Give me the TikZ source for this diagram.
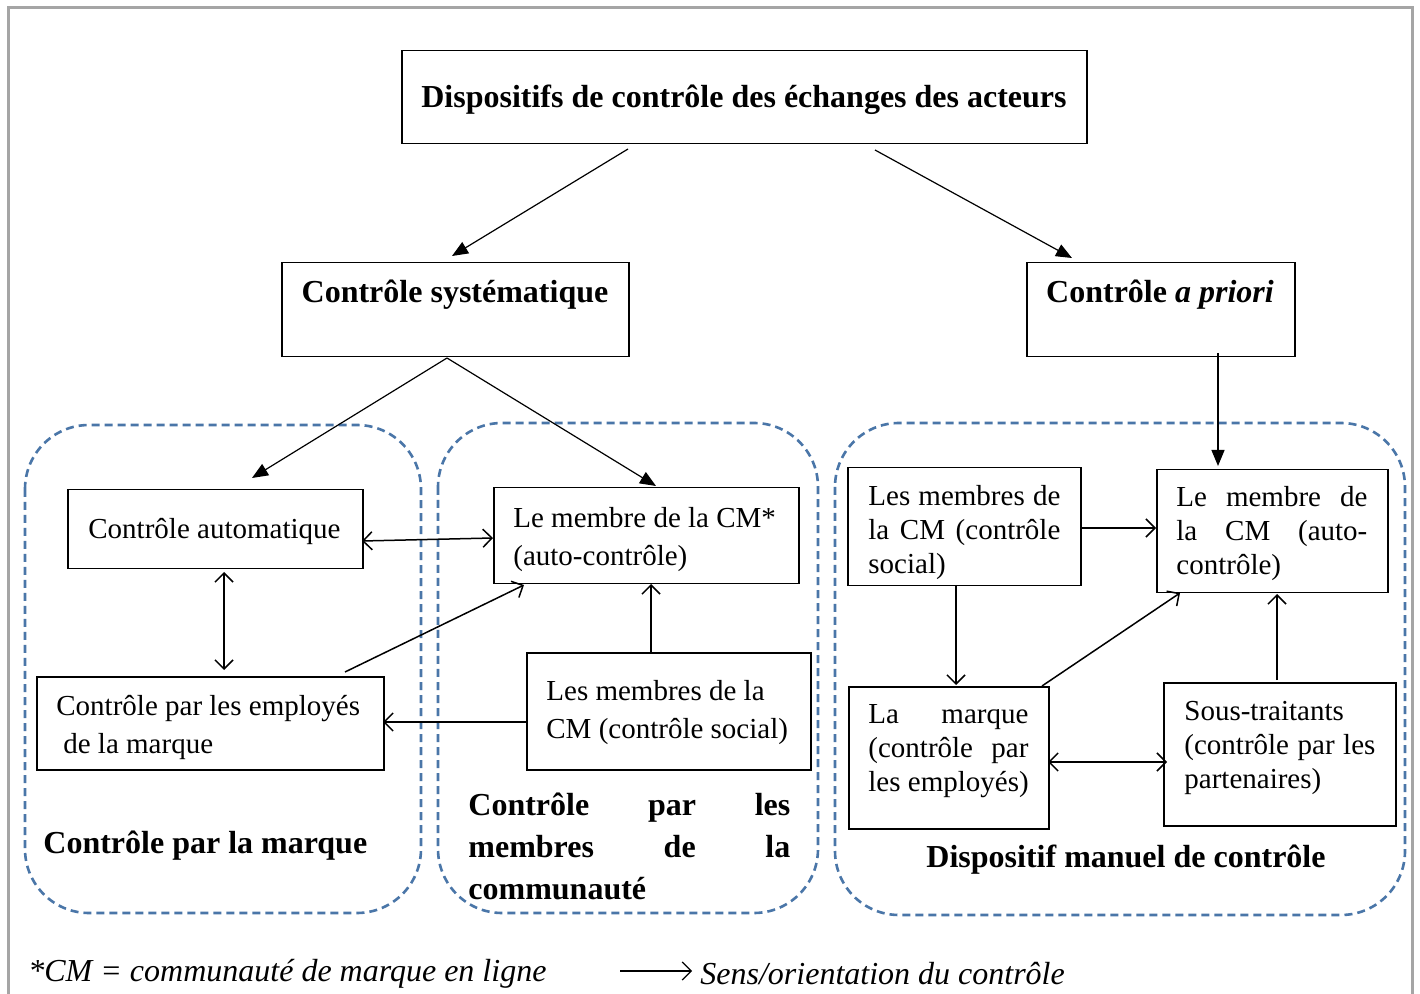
\documentclass[tikz,border=0pt]{standalone}
\usepackage{fontspec}
\setmainfont{Liberation Serif}
\usetikzlibrary{arrows.meta,calc}
\newcommand\jline[2]{\makebox[#1][s]{#2}}
\begin{document}
\begin{tikzpicture}[x=0.5pt,y=-0.5pt,
  box/.style={draw,line width=0.75pt,inner sep=0pt,anchor=north west},
  txt/.style={inner sep=0pt,align=left,anchor=west,yshift=-1.5pt,font=\fontsize{14.5}{19}\selectfont},
  rtxt/.style={inner sep=0pt,align=left,anchor=west,yshift=-1.5pt,font=\fontsize{14.5}{17}\selectfont},
  ttl/.style={inner sep=0pt,yshift=-1.5pt,font=\fontsize{16}{21}\selectfont\bfseries},
  leg/.style={inner sep=0pt,anchor=west,yshift=-1.5pt,font=\fontsize{16}{19}\selectfont\itshape},
  group/.style={draw=dashblue,line width=1.3pt,dash pattern=on 4pt off 2.5pt,rounded corners=32pt},
  tri/.style={-{Triangle[length=8pt,width=6.5pt]},line width=0.6pt},
  opn/.style={-{Straight Barb[length=4.5pt,width=9pt]},line width=0.75pt},
  bopn/.style={{Straight Barb[length=4.5pt,width=9pt]}-{Straight Barb[length=4.5pt,width=9pt]},line width=0.75pt}
]
\definecolor{dashblue}{HTML}{4A76A8}
\useasboundingbox (0,0) rectangle (1420,994);
\fill[white] (0,0) rectangle (1420,994);
\draw[color={rgb,255:red,165;green,165;blue,165},line width=1.5pt] (8,1010) -- (8,8) -- (1412,8) -- (1412,1010);

% groups
\draw[group] (25,425) rectangle (421,913);
\draw[group] (438,423) rectangle (818,913);
\draw[group] (835,423) rectangle (1405,915);

% boxes
\node[box,minimum width=342.5pt,minimum height=46.5pt] (top) at (401,50) {};
\node[box,minimum width=173.5pt,minimum height=47pt] (sys) at (281,262) {};
\node[box,minimum width=134pt,minimum height=47pt] (apr) at (1026,262) {};
\node[box,minimum width=147.5pt,minimum height=39.5pt] (auto) at (67,489) {};
\node[box,minimum width=152.5pt,minimum height=48pt] (cm) at (493,487) {};
\node[box,minimum width=173.5pt,minimum height=46.5pt] (emp) at (36,676) {};
\node[box,minimum width=142pt,minimum height=58.5pt] (soc) at (526,652) {};
\node[box,minimum width=116.5pt,minimum height=59pt] (rsoc) at (847,467) {};
\node[box,minimum width=115.5pt,minimum height=61.5pt] (rcm) at (1156,469) {};
\node[box,minimum width=100pt,minimum height=71pt] (mar) at (848,686) {};
\node[box,minimum width=116pt,minimum height=71.5pt] (sous) at (1163,682) {};

% texts
\node[ttl] (ttop) at (744,97) {Dispositifs de contrôle des échanges des acteurs};
\node[ttl] (tsys) at (455,292) {Contrôle systématique};
\node[ttl] (tapr) at (1160,292) {Contrôle \textit{a priori}};
\node[txt] (tauto) at (88,528) {Contrôle automatique};
\node[txt] (tcm) at (513,537) {Le membre de la CM*\\(auto-contrôle)};
\node[txt] (temp) at (56,724) {Contrôle par les employés\\\hspace*{3.5pt}de la marque};
\node[txt] (tsoc) at (546,709.5) {Les membres de la\\CM (contrôle social)};
\node[rtxt] (trsoc) at (868,529.5) {\jline{96pt}{Les membres de}\\\jline{96pt}{la CM (contrôle}\\social)};
\node[rtxt] (trcm) at (1176,531) {\jline{95.5pt}{Le membre de}\\\jline{95.5pt}{la CM (auto-}\\contrôle)};
\node[rtxt] (tmar) at (868,748) {\jline{80pt}{La marque}\\\jline{80pt}{(contrôle par}\\les employés)};
\node[rtxt] (tsous) at (1184,744.5) {Sous-traitants\\\jline{95.5pt}{(contrôle par les}\\partenaires)};

\node[ttl,anchor=west] (lmar) at (43,843) {Contrôle par la marque};
\node[ttl,anchor=west,align=left,font=\fontsize{16}{21}\selectfont\bfseries] (lcom) at (468,843) {\jline{161pt}{Contrôle par les}\\\jline{161pt}{membres de la}\\communauté};
\node[ttl] (lman) at (1126,857) {Dispositif manuel de contrôle};

% legend
\node[leg] (leg1) at (28,971) {*CM = communauté de marque en ligne};
\coordinate (legA) at (620,971);
\coordinate (legB) at (692,971);
\draw[opn,line width=0.6pt] (legA) -- (legB);
\node[leg] (leg2) at (700,971) {Sens/orientation du contrôle};

% filled arrows
\draw[tri] ($(top.north west)+(227,99)$) -- ($(sys.north west)+(171,-6)$);
\draw[tri] ($(top.north west)+(474,100)$) -- ($(apr.north west)+(46,-4)$);
\draw[tri] ($(sys.north west)+(166,96)$) -- ($(auto.north west)+(185,-11)$);
\draw[tri] ($(sys.north west)+(166,96)$) -- ($(cm.north west)+(163,-1)$);
\draw[tri] ($(apr.north west)+(192,91)$) -- ($(rcm.north west)+(62,-3)$);

% open arrows
\draw[bopn] ($(auto.north west)+(295,52)$) -- ($(cm.north west)+(0,51)$);
\draw[bopn] ($(auto.north west)+(157,83)$) -- ($(emp.north west)+(188,-6)$);
\draw[opn] ($(emp.north west)+(309,-4)$) -- ($(cm.north west)+(31,98)$);
\draw[opn] ($(soc.north west)+(0,70)$) -- ($(emp.north west)+(347,46)$);
\draw[opn] ($(soc.north west)+(125,0)$) -- ($(cm.north west)+(158,97)$);
\draw[opn] ($(rsoc.north west)+(235,61)$) -- ($(rcm.north west)+(0,59)$);
\draw[opn] ($(rsoc.north west)+(109,118)$) -- ($(mar.north west)+(108,-1)$);
\draw[opn] ($(mar.north west)+(194,0)$) -- ($(rcm.north west)+(24,124)$);
\draw[opn] ($(sous.north west)+(114,-2)$) -- ($(rcm.north west)+(121,125)$);
\draw[bopn] ($(mar.north west)+(200,76)$) -- ($(sous.north west)+(4,80)$);
\end{tikzpicture}
\end{document}
